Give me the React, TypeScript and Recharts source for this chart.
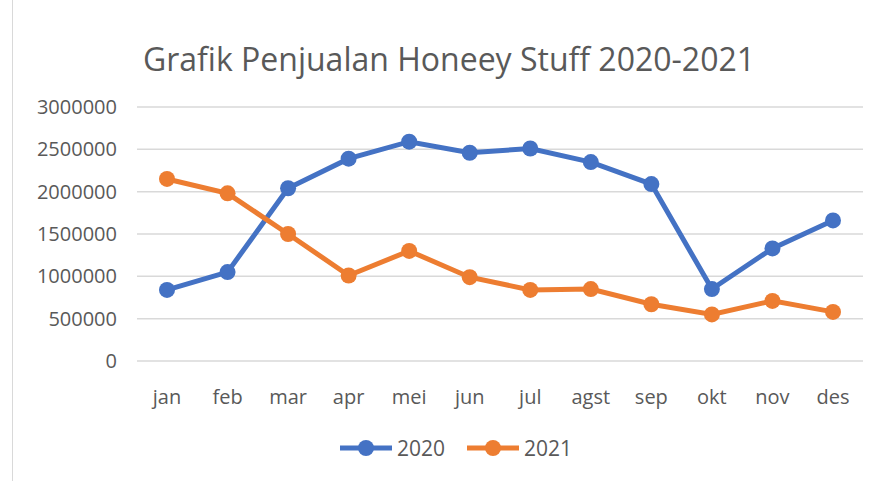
import { LineChart, Line, XAxis, YAxis, CartesianGrid, Legend } from 'recharts'

const months = ['jan', 'feb', 'mar', 'apr', 'mei', 'jun', 'jul', 'agst', 'sep', 'okt', 'nov', 'des']
const sales2020 = [840000, 1050000, 2040000, 2390000, 2590000, 2460000, 2510000, 2350000, 2090000, 850000, 1330000, 1660000]
const sales2021 = [2150000, 1980000, 1500000, 1010000, 1300000, 990000, 840000, 850000, 670000, 550000, 710000, 580000]
const yTicks = [0, 500000, 1000000, 1500000, 2000000, 2500000, 3000000]

const data = months.map((m, i) => ({ month: m, y2020: sales2020[i], y2021: sales2021[i] }))

const FONT = '"Open Sans", sans-serif'
const TEXT = '#595959'
const BLUE = '#4472C4'
const ORANGE = '#ED7D31'

function LegendContent() {
  const items = [
    { label: '2020', color: BLUE },
    { label: '2021', color: ORANGE },
  ]
  return (
    <div style={{ display: 'flex', alignItems: 'center', height: 30, gap: 22, paddingLeft: 340, fontFamily: FONT, fontSize: 21, color: TEXT }}>
      {items.map((it) => (
        <div key={it.label} style={{ display: 'flex', alignItems: 'center', gap: 5 }}>
          <svg width={52} height={20}>
            <line x1={0} y1={10} x2={52} y2={10} stroke={it.color} strokeWidth={5} />
            <circle cx={26} cy={10} r={8} fill={it.color} />
          </svg>
          <span>{it.label}</span>
        </div>
      ))}
    </div>
  )
}

export default function App() {
  return (
    <div style={{ position: 'absolute', left: 0, top: 0, width: 878, height: 481, background: '#fff' }}>
      <div style={{ position: 'absolute', left: 12, top: 0, width: 1, height: 481, background: '#D9D9D9' }} />
      <div style={{ position: 'absolute', left: 0, top: 37, width: 898, textAlign: 'center', fontFamily: FONT, fontSize: 32, color: TEXT }}>
        Grafik Penjualan Honeey Stuff 2020-2021
      </div>
      <LineChart width={878} height={481} data={data} margin={{ top: 107, right: 15, left: 0, bottom: 18 }}>
        <CartesianGrid vertical={false} stroke="#D9D9D9" strokeWidth={1.5} />
        <XAxis dataKey="month" axisLine={false} tickLine={false} tickSize={0} tickMargin={29} height={72}
          padding={{ left: 30, right: 30 }}
          tick={{ fontSize: 20, fill: TEXT, fontFamily: FONT }} interval={0} />
        <YAxis domain={[0, 3000000]} ticks={yTicks} axisLine={false} tickLine={false} tickSize={0} tickMargin={20} width={137}
          tick={{ fontSize: 20, fill: TEXT, fontFamily: FONT }} />
        <Legend verticalAlign="bottom" height={30} content={<LegendContent />} />
        <Line dataKey="y2020" name="2020" stroke={BLUE} strokeWidth={5} dot={{ r: 8, fill: BLUE, stroke: BLUE, strokeWidth: 0 }} isAnimationActive={false} />
        <Line dataKey="y2021" name="2021" stroke={ORANGE} strokeWidth={5} dot={{ r: 8, fill: ORANGE, stroke: ORANGE, strokeWidth: 0 }} isAnimationActive={false} />
      </LineChart>
    </div>
  )
}
